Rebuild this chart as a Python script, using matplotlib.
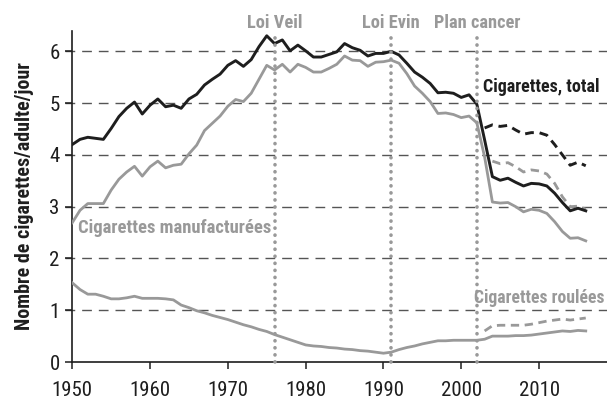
import numpy as np
import matplotlib
matplotlib.use("Agg")
import matplotlib.pyplot as plt
from matplotlib import font_manager


def _w(x):
    if isinstance(x, (int, float)):
        return x
    return font_manager.weight_dict.get(str(x).lower(), 400)


# look for a narrow sans face that also has a bold weight
faces = {}
for f in font_manager.fontManager.ttflist:
    if "Narrow" in f.name or "Condensed" in f.name or "Cond" in f.name:
        faces.setdefault(f.name, set()).add(_w(f.weight))
narrow = None
prefer = ["Liberation Sans Narrow", "Roboto Condensed", "Open Sans Condensed",
          "Noto Sans Condensed", "DejaVu Sans Condensed"]
for name in prefer + sorted(faces):
    if name in faces and max(faces[name]) >= 600:
        narrow = name
        break
FAMILY = [narrow, "Liberation Sans", "DejaVu Sans"] if narrow else ["Liberation Sans", "DejaVu Sans"]
plt.rcParams['font.family'] = FAMILY
K = 1.2 if narrow else 1.0  # narrow faces can be set larger for the same width

# Data
years = list(range(1950, 2017))
total = [4.20, 4.30, 4.34, 4.32, 4.30, 4.51, 4.74, 4.90, 5.02, 4.79,
         4.96, 5.08, 4.93, 4.96, 4.90, 5.08, 5.17, 5.35, 5.46, 5.56,
         5.73, 5.82, 5.71, 5.84, 6.09, 6.30, 6.15, 6.22, 6.01, 6.12,
         6.01, 5.89, 5.89, 5.94, 5.99, 6.15, 6.07, 6.02, 5.91, 5.96,
         5.96, 6.00, 5.93, 5.77, 5.60, 5.50, 5.38, 5.20, 5.21, 5.19,
         5.11, 5.16, 4.98, 4.29, 3.58, 3.51, 3.55, 3.47, 3.40, 3.45,
         3.44, 3.40, 3.26, 3.08, 2.92, 2.97, 2.92]
manuf = [2.69, 2.93, 3.06, 3.06, 3.06, 3.32, 3.53, 3.67, 3.78, 3.59,
         3.77, 3.88, 3.75, 3.80, 3.82, 4.02, 4.19, 4.47, 4.61, 4.75,
         4.94, 5.07, 5.03, 5.19, 5.46, 5.73, 5.64, 5.75, 5.60, 5.75,
         5.69, 5.60, 5.60, 5.67, 5.75, 5.91, 5.83, 5.82, 5.71, 5.79,
         5.80, 5.83, 5.77, 5.57, 5.33, 5.19, 5.03, 4.80, 4.81, 4.78,
         4.72, 4.75, 4.62, 3.96, 3.09, 3.07, 3.08, 3.00, 2.90, 2.95,
         2.93, 2.87, 2.71, 2.52, 2.39, 2.40, 2.34]
rolled = [1.53, 1.40, 1.31, 1.31, 1.27, 1.22, 1.22, 1.24, 1.27, 1.23,
          1.23, 1.23, 1.22, 1.20, 1.10, 1.05, 0.99, 0.95, 0.90, 0.86,
          0.82, 0.77, 0.72, 0.68, 0.63, 0.59, 0.53, 0.48, 0.43, 0.38,
          0.33, 0.31, 0.30, 0.28, 0.27, 0.25, 0.24, 0.22, 0.21, 0.19,
          0.17, 0.19, 0.24, 0.28, 0.31, 0.35, 0.38, 0.41, 0.41, 0.42,
          0.42, 0.42, 0.42, 0.44, 0.50, 0.50, 0.50, 0.51, 0.51, 0.52,
          0.54, 0.56, 0.58, 0.60, 0.59, 0.61, 0.60]

# alternative estimates (dashed), from 2003/2004 on
years_tot_d = list(range(2003, 2017))
total_d = [4.52, 4.58, 4.55, 4.57, 4.48, 4.40, 4.43, 4.43, 4.38, 4.20,
           4.00, 3.80, 3.86, 3.79]
years_man_d = list(range(2004, 2017))
manuf_d = [3.88, 3.83, 3.85, 3.77, 3.67, 3.71, 3.69, 3.63, 3.45, 3.19,
           3.00, 3.01, 2.95]
years_rol_d = list(range(2003, 2017))
rolled_d = [0.60, 0.70, 0.71, 0.71, 0.71, 0.71, 0.73, 0.76, 0.79, 0.81,
            0.83, 0.81, 0.83, 0.85]

events = [1976, 1991, 2002]
event_labels = ["Loi Veil", "Loi Evin", "Plan cancer"]

BLACK = "#1e1e1e"
GREY = "#999999"

fig = plt.figure(figsize=(6.07, 4.03), dpi=100)
ax = fig.add_axes([0.119, 0.1017, 0.881, 0.8223])
ax.set_xlim(1950, 2018.73)
ax.set_ylim(0, 6.4)

# horizontal dashed grid
for v in range(1, 7):
    ax.plot([-0.014, 1], [v, v], transform=ax.get_yaxis_transform(),
            color="#555555", lw=1.0, ls=(0, (7, 5)), clip_on=False, zorder=1)

ax.plot(years, manuf, color=GREY, lw=2.0, zorder=3)
ax.plot(years, rolled, color=GREY, lw=2.0, zorder=3)
ax.plot(years, total, color=BLACK, lw=2.1, zorder=4)
ax.plot(years_man_d, manuf_d, color=GREY, lw=2.0, ls=(0, (3, 2)), zorder=3)
ax.plot(years_rol_d, rolled_d, color=GREY, lw=2.0, ls=(0, (3, 2)), zorder=3)
ax.plot(years_tot_d, total_d, color=BLACK, lw=2.1, ls=(0, (3, 2)), zorder=4)

ax.text(2002.75, 5.31, "Cigarettes, total", color=BLACK, fontsize=10.8 * K,
        fontweight="bold", va="center", ha="left", zorder=5)
ax.text(1950.7, 2.58, "Cigarettes manufacturées", color=GREY, fontsize=11.2 * K,
        fontweight="bold", va="center", ha="left", zorder=5)
ax.text(2001.65, 1.24, "Cigarettes roulées", color=GREY, fontsize=10.6 * K,
        fontweight="bold", va="center", ha="left", clip_on=False, zorder=5)

# event markers (drawn over the labels, as in the source)
for yr, lab in zip(events, event_labels):
    ax.plot([yr, yr], [0, 6.36], color=GREY, lw=2.6, ls=(0, (0.05, 1.9)),
            dash_capstyle="round", clip_on=False, zorder=6)
    ax.text(yr, 6.54, lab, ha="center", va="center", color=GREY,
            fontsize=11 * K, fontweight="bold")

ax.spines["top"].set_visible(False)
ax.spines["right"].set_visible(False)
for s in ("left", "bottom"):
    ax.spines[s].set_color(BLACK)
    ax.spines[s].set_linewidth(1.2)

ax.set_xticks(range(1950, 2011, 10))
ax.set_yticks(range(0, 7))
ax.tick_params(axis="both", direction="out", length=5, width=1.1,
               color=BLACK, labelsize=12.5 * K, labelcolor=BLACK, pad=4)
ax.tick_params(axis="x", pad=9)
ax.set_ylabel("Nombre de cigarettes/adulte/jour", fontsize=12 * K,
              fontweight="bold", color=BLACK, labelpad=11)

fig.savefig("out.png", dpi=100)
